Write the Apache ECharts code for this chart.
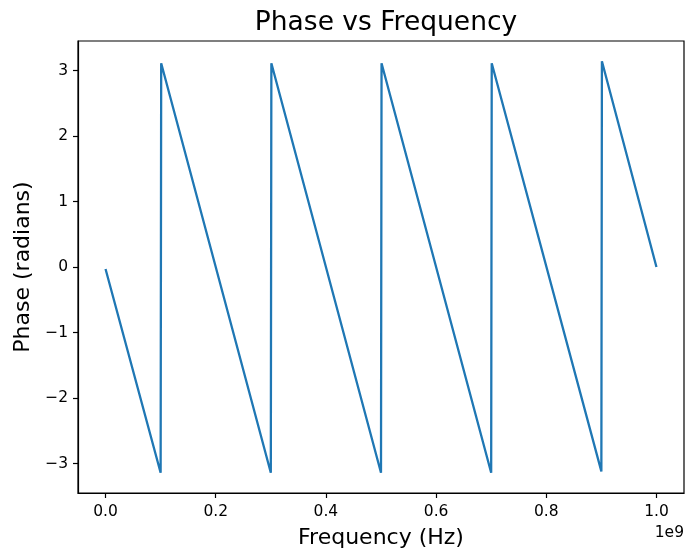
<!DOCTYPE html>
<html>
<head>
<meta charset="utf-8">
<script src="https://cdn.jsdelivr.net/npm/echarts@6/dist/echarts.min.js"></script>
<style>
  html, body { margin: 0; padding: 0; background: #fff; }
  #main { width: 685px; height: 554px; }
</style>
</head>
<body>
<div id="main"></div>
<script>
// breakpoints of the wrapped phase curve (Hz, radians)
var freq = [0, 1.00e8, 1.01e8, 3.00e8, 3.01e8, 5.00e8, 5.01e8, 7.00e8, 7.01e8, 9.00e8, 9.01e8, 1.00e9]
var phase = [-0.03, -3.14, 3.11, -3.14, 3.11, -3.14, 3.11, -3.14, 3.11, -3.12, 3.14, 0.0]
var xTicks = [0, 2e8, 4e8, 6e8, 8e8, 1e9]
var yTicks = [-3, -2, -1, 0, 1, 2, 3]

var font = 'DejaVu Sans'
var chart = echarts.init(document.getElementById('main'), null, { renderer: 'canvas' })

var points = []
for (var i = 0; i < freq.length; i++) {
  points.push([freq[i], phase[i]])
}

function minus(v) {
  return v < 0 ? '\u2212' + (-v) : String(v)
}

var option = {
  animation: false,
  backgroundColor: '#fff',
  title: {
    text: 'Phase vs Frequency',
    left: 381,
    top: 5,
    textAlign: 'center',
    textStyle: { fontFamily: font, fontSize: 26.5, fontWeight: 'normal', color: '#000' }
  },
  grid: {
    left: 78, top: 41, right: 1, bottom: 61,
    show: true, borderColor: '#000', borderWidth: 1.2, backgroundColor: 'transparent'
  },
  xAxis: {
    type: 'value',
    min: -0.05e9,
    max: 1.05e9,
    name: 'Frequency (Hz)',
    nameLocation: 'middle',
    nameGap: 34,
    nameTextStyle: { fontFamily: font, fontSize: 22, color: '#000' },
    axisLine: { show: true, onZero: false, lineStyle: { color: '#000', width: 1.2 } },
    axisTick: { show: true, customValues: xTicks, length: 5, lineStyle: { color: '#000', width: 1.2 } },
    axisLabel: {
      customValues: xTicks,
      margin: 11,
      fontFamily: font, fontSize: 15.5, color: '#000',
      formatter: function (v) { return (v / 1e9).toFixed(1) }
    },
    splitLine: { show: false }
  },
  yAxis: {
    type: 'value',
    min: -3.45,
    max: 3.45,
    name: 'Phase (radians)',
    nameLocation: 'middle',
    nameGap: 44,
    nameTextStyle: { fontFamily: font, fontSize: 22, color: '#000' },
    axisLine: { show: true, onZero: false, lineStyle: { color: '#000', width: 1.2 } },
    axisTick: { show: true, customValues: yTicks, length: 5, lineStyle: { color: '#000', width: 1.2 } },
    axisLabel: {
      customValues: yTicks,
      margin: 10,
      fontFamily: font, fontSize: 15.5, color: '#000',
      formatter: minus
    },
    splitLine: { show: false }
  },
  graphic: [{
    type: 'text',
    right: 1,
    top: 525,
    style: { text: '1e9', fontFamily: font, fontSize: 15.5, fill: '#000' }
  }],
  series: [{
    type: 'line',
    data: points,
    showSymbol: false,
    symbol: 'none',
    lineStyle: { color: '#1f77b4', width: 2.3 },
    itemStyle: { color: '#1f77b4' }
  }]
}
chart.setOption(option)
</script>
</body>
</html>
